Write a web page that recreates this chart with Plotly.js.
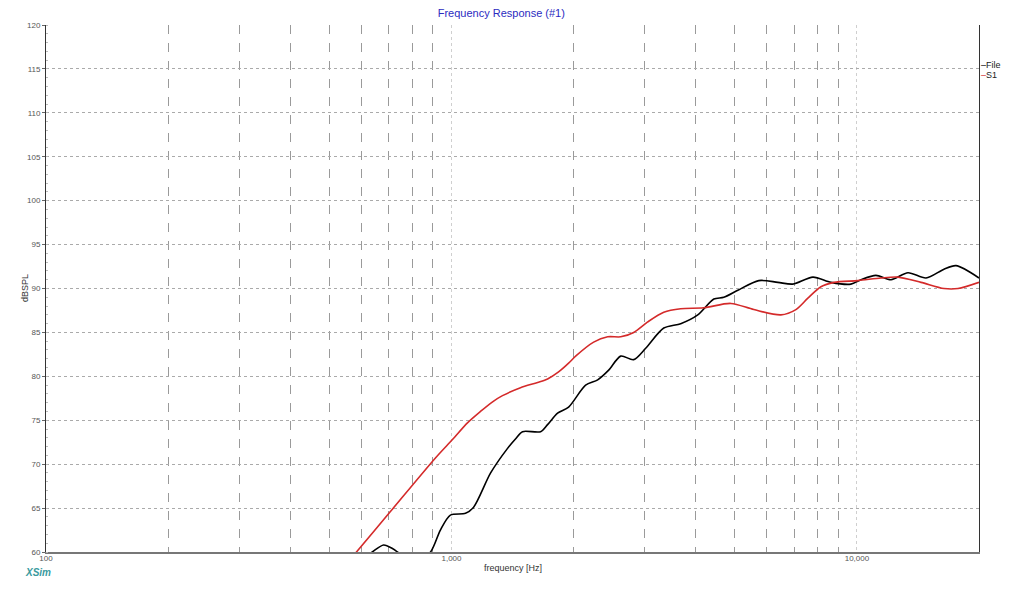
<!DOCTYPE html>
<html>
<head>
<meta charset="utf-8">
<script src="https://cdn.plot.ly/plotly-3.0.1.min.js"></script>
<style>html,body{margin:0;padding:0;background:#fff;}#chart{width:1024px;height:589px;}</style>
</head>
<body>
<div id="chart"></div>
<script>
// File (black) measured response
const fileFreq = [560, 596, 638, 680, 715, 736, 806, 888, 939, 994, 1083, 1134, 1249, 1375, 1440, 1497, 1659, 1726, 1827, 1945, 2142, 2294, 2442, 2615, 2814, 3013, 3339, 3676, 4050, 4437, 4695, 5084, 5728, 6381, 6950, 7788, 8627, 9665, 10230, 11140, 12134, 13364, 14807, 16393, 17554, 20000];
const fileSpl  = [57.5, 59.0, 60.0, 60.8, 60.4, 60.0, 58.5, 60.0, 62.5, 64.2, 64.4, 65.1, 69.0, 71.8, 72.9, 73.7, 73.7, 74.5, 75.8, 76.5, 79.0, 79.6, 80.7, 82.3, 81.9, 83.2, 85.5, 86.0, 87.0, 88.8, 89.0, 89.8, 90.9, 90.7, 90.5, 91.3, 90.7, 90.5, 91.0, 91.5, 91.0, 91.8, 91.2, 92.2, 92.6, 91.2];
// S1 (red) simulated response
const s1Freq = [500, 583, 707, 913, 1006, 1095, 1179, 1263, 1336, 1480, 1631, 1726, 1837, 1945, 2024, 2242, 2428, 2615, 2814, 3048, 3339, 3676, 4190, 4886, 5567, 6492, 7070, 7568, 8150, 8775, 10058, 11463, 12628, 14387, 16393, 17758, 20000];
const s1Spl  = [56.2, 60.0, 64.6, 70.7, 72.8, 74.7, 76.0, 77.1, 77.8, 78.7, 79.3, 79.7, 80.5, 81.5, 82.3, 83.9, 84.5, 84.5, 85.0, 86.2, 87.3, 87.7, 87.8, 88.3, 87.6, 87.0, 87.6, 88.9, 90.2, 90.7, 90.9, 91.2, 91.3, 90.7, 90.0, 90.0, 90.7];

const xMajorVals = [100, 1000, 10000];
const xMajorText = ['100', '1,000', '10,000'];
const xMinorVals = [200, 300, 400, 500, 600, 700, 800, 900, 2000, 3000, 4000, 5000, 6000, 7000, 8000, 9000];
const seriesNames = ['File', 'S1'];
const seriesColors = ['#000000', '#d42a2a'];

const fontFam = 'Liberation Sans, Arial, sans-serif';

const traces = [
  {x: fileFreq, y: fileSpl, name: seriesNames[0], type: 'scatter', mode: 'lines',
   line: {color: seriesColors[0], width: 1.6, shape: 'spline', smoothing: 0.8}},
  {x: s1Freq, y: s1Spl, name: seriesNames[1], type: 'scatter', mode: 'lines',
   line: {color: seriesColors[1], width: 1.6, shape: 'spline', smoothing: 0.8}}
];

const layout = {
  width: 1024, height: 589,
  margin: {l: 46, r: 45, t: 25, b: 37},
  paper_bgcolor: '#ffffff', plot_bgcolor: '#ffffff',
  showlegend: false,
  font: {family: fontFam, size: 8, color: '#444'},
  title: {text: 'Frequency Response (#1)', font: {family: fontFam, size: 11, color: '#2b2bbf'},
          x: 0.488, xref: 'paper', xanchor: 'center', y: 0.977, yref: 'container', yanchor: 'middle'},
  xaxis: {
    type: 'log', range: [2, Math.log10(20000)],
    tickmode: 'array', tickvals: xMajorVals, ticktext: xMajorText,
    ticks: '', ticklabelstandoff: -3, tickfont: {family: fontFam, size: 8, color: '#555'},
    showgrid: true, gridcolor: '#cfcfcf', griddash: 'dot', gridwidth: 1,
    minor: {tickmode: 'array', tickvals: xMinorVals, showgrid: true, gridcolor: '#9a9a9a', griddash: 'dash', gridwidth: 1, ticks: ''},
    showline: true, linecolor: '#777', linewidth: 2, mirror: false, zeroline: false,
    title: {text: ''}
  },
  yaxis: {
    range: [60, 120], dtick: 5, tick0: 60,
    ticks: 'outside', ticklen: 3, tickcolor: '#666', tickwidth: 1,
    tickfont: {family: fontFam, size: 8, color: '#555'},
    showgrid: true, gridcolor: '#aaaaaa', griddash: 'dot', gridwidth: 1,
    minor: {dtick: 1, ticks: 'inside', ticklen: 2, tickcolor: '#bbb', showgrid: false},
    showline: true, linecolor: '#333', linewidth: 1, mirror: true, zeroline: false,
    title: {text: ''}
  },
  annotations: [
    {xref: 'paper', yref: 'paper', x: 0.5, y: -16 / 527, xanchor: 'center', yanchor: 'middle', showarrow: false,
     text: 'frequency [Hz]', font: {family: fontFam, size: 9, color: '#333'}},
    {xref: 'paper', yref: 'paper', x: -21 / 933, y: (552 - 288) / 527, xanchor: 'center', yanchor: 'middle', showarrow: false,
     textangle: -90, text: 'dBSPL', font: {family: fontFam, size: 9, color: '#333'}},
    {xref: 'paper', yref: 'paper', x: 1, y: (552 - 65) / 527, xanchor: 'left', yanchor: 'middle', showarrow: false,
     text: '<span style="color:' + seriesColors[0] + '">\u2013</span>' + seriesNames[0], font: {family: fontFam, size: 9, color: '#222'}},
    {xref: 'paper', yref: 'paper', x: 1, y: (552 - 75) / 527, xanchor: 'left', yanchor: 'middle', showarrow: false,
     text: '<span style="color:' + seriesColors[1] + '">\u2013</span>' + seriesNames[1], font: {family: fontFam, size: 9, color: '#222'}},
    {xref: 'paper', yref: 'paper', x: -23 / 933, y: -20 / 527, xanchor: 'left', yanchor: 'middle', showarrow: false,
     text: '<b><i>XSim</i></b>', font: {family: fontFam, size: 10, color: '#3a9a9e'}}
  ]
};

Plotly.newPlot('chart', traces, layout, {displayModeBar: false, staticPlot: true});
</script>
</body>
</html>
